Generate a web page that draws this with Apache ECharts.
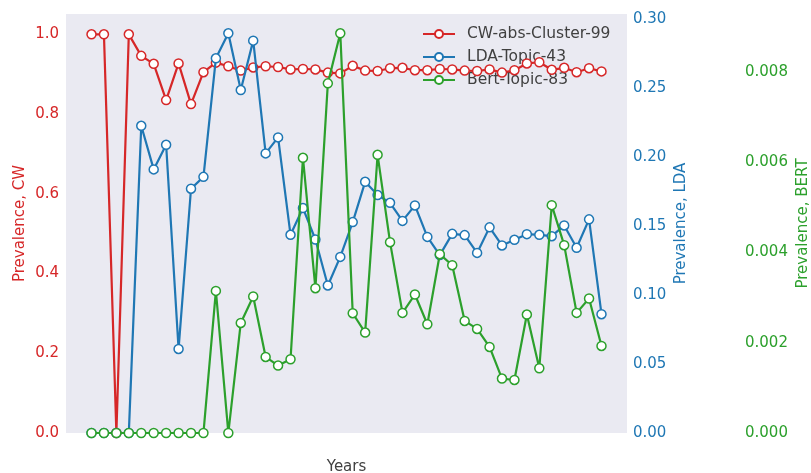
<!DOCTYPE html>
<html>
<head>
<meta charset="utf-8">
<script src="https://cdn.jsdelivr.net/npm/echarts@6/dist/echarts.min.js"></script>
<style>
  html, body { margin: 0; padding: 0; background: #ffffff; }
  #chart { width: 811px; height: 473px; }
</style>
</head>
<body>
<div id="chart"></div>
<script>
// Year positions (sequential, unlabeled on the axis)
const yearIndex = Array.from({ length: 42 }, (_, i) => i);

// Prevalence per year for each topic representation
const cwCluster99 = [
  1.000, 1.000, 0.000, 1.000, 0.946, 0.926, 0.835, 0.927, 0.825, 0.905,
  0.929, 0.920, 0.909, 0.917, 0.920, 0.918, 0.912, 0.913, 0.912, 0.904,
  0.902, 0.921, 0.909, 0.908, 0.915, 0.916, 0.910, 0.910, 0.913, 0.912,
  0.909, 0.908, 0.912, 0.904, 0.910, 0.927, 0.930, 0.911, 0.916, 0.905,
  0.915, 0.907
];
const ldaTopic43 = [
  0.000, 0.000, 0.000, 0.000, 0.2226, 0.191, 0.2088, 0.0609, 0.177, 0.1856,
  0.2715, 0.2896, 0.2485, 0.2843, 0.2026, 0.2142, 0.1436, 0.163, 0.1402, 0.1069,
  0.1276, 0.1528, 0.182, 0.1724, 0.1668, 0.1537, 0.1649, 0.1421, 0.1289, 0.1443,
  0.1434, 0.1305, 0.149, 0.1359, 0.140, 0.1441, 0.1436, 0.1426, 0.1504, 0.1342,
  0.1548, 0.0861
];
const bertTopic83 = [
  0, 0, 0, 0, 0, 0, 0, 0, 0, 0,
  0.003149, 0, 0.002439, 0.003024, 0.001685, 0.001494, 0.001634, 0.006098, 0.003208, 0.007747,
  0.008856, 0.002654, 0.002226, 0.006164, 0.004228, 0.002661, 0.003069, 0.002410, 0.003962, 0.003718,
  0.002483, 0.002306, 0.001907, 0.001206, 0.001175, 0.002625, 0.001435, 0.005049, 0.004162, 0.002661,
  0.002980, 0.001929
];

const seriesNames = ['CW-abs-Cluster-99', 'LDA-Topic-43', 'Bert-Topic-83'];
const RED = '#d62728', BLUE = '#1f77b4', GREEN = '#2ca02c';
const FONT = 'DejaVu Sans';

const pairs = vals => vals.map((v, i) => [yearIndex[i], v]);

function lineSeries(name, vals, color, axisIdx, z) {
  return {
    name: name,
    type: 'line',
    yAxisIndex: axisIdx,
    data: pairs(vals),
    symbol: 'circle',
    symbolSize: 9,
    showAllSymbol: true,
    z: z,
    lineStyle: { color: color, width: 2.2 },
    itemStyle: { color: '#ffffff', borderColor: color, borderWidth: 1.5 },
    emphasis: { disabled: true },
    animation: false
  };
}

function yAxisDef(name, color, max, interval, digits, pos, offset, nameGap) {
  return {
    type: 'value',
    position: pos,
    offset: offset,
    min: 0,
    max: max,
    interval: interval,
    name: name,
    nameLocation: 'middle',
    nameRotate: 90,
    nameGap: nameGap,
    nameMoveOverlap: false,
    nameTextStyle: { color: color, fontFamily: FONT, fontSize: 15 },
    axisLine: { show: false },
    axisTick: { show: false },
    splitLine: { show: false },
    axisLabel: {
      color: color, fontFamily: FONT, fontSize: 15,
      margin: pos === 'left' ? 7 : 6,
      showMaxLabel: false,
      formatter: v => v.toFixed(digits)
    }
  };
}

const chart = echarts.init(document.getElementById('chart'), null, { renderer: 'canvas' });
chart.setOption({
  animation: false,
  backgroundColor: '#ffffff',
  grid: {
    left: 66, right: 184, top: 14, bottom: 40,
    outerBoundsMode: 'none',
    containLabel: false,
    show: true, backgroundColor: '#eaeaf2', borderWidth: 0
  },
  legend: {
    data: seriesNames,
    left: 417, top: 21,
    z: 1,
    orient: 'vertical',
    itemWidth: 32, itemHeight: 10, itemGap: 7,
    textStyle: {
      color: '#404040', fontFamily: FONT, fontSize: 15.5,
      padding: [0, 0, 0, 7]
    }
  },
  xAxis: {
    type: 'value',
    min: -2.05, max: 43.05,
    name: 'Years',
    nameLocation: 'middle',
    nameGap: 27,
    nameMoveOverlap: false,
    nameTextStyle: { color: '#404040', fontFamily: FONT, fontSize: 15 },
    axisLine: { show: false },
    axisTick: { show: false },
    axisLabel: { show: false },
    splitLine: { show: false }
  },
  yAxis: [
    yAxisDef('Prevalence, CW', RED, 1.051, 0.2, 1, 'left', 0, 38),
    yAxisDef('Prevalence, LDA', BLUE, 0.3036, 0.05, 2, 'right', 0, 47),
    yAxisDef('Prevalence, BERT', GREEN, 0.009284, 0.002, 3, 'right', 112, 57)
  ],
  series: [
    lineSeries(seriesNames[0], cwCluster99, RED, 0, 2),
    lineSeries(seriesNames[1], ldaTopic43, BLUE, 1, 3),
    lineSeries(seriesNames[2], bertTopic83, GREEN, 2, 4)
  ]
});
</script>
</body>
</html>
